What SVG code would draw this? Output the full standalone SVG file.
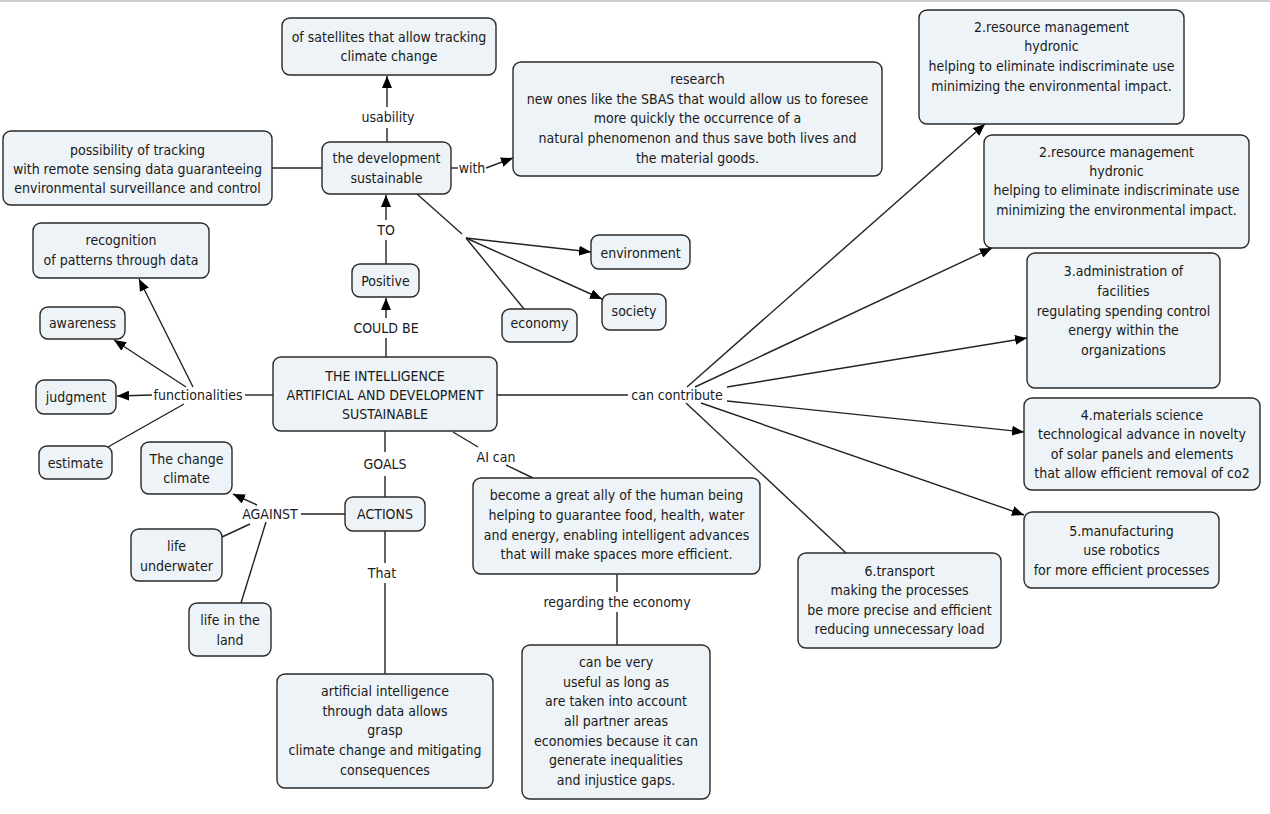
<svg xmlns="http://www.w3.org/2000/svg" width="1270" height="814" viewBox="0 0 1270 814">
<defs>
<marker id="ar" viewBox="0 0 12 10" refX="12" refY="5" markerWidth="12" markerHeight="10" markerUnits="userSpaceOnUse" orient="auto">
<path d="M0,0 L12,5 L0,10 Z" fill="#000"/>
</marker>
<style>
.n rect{fill:#edf3f6;stroke:#2a2a2a;stroke-width:1.4}
text{font-family:"DejaVu Sans Condensed","DejaVu Sans",Verdana,sans-serif;font-size:14px;fill:#1a1a1a;text-anchor:middle}
.c line,.c path{stroke:#222;stroke-width:1.4;fill:none}
</style>
</defs>
<rect width="1270" height="814" fill="#fff"/>
<line x1="0" y1="1" x2="1270" y2="1" stroke="#ccc" stroke-width="2"/>
<g class="c" id="connectors">
<line x1="387" y1="142" x2="387" y2="128"/>
<line x1="387" y1="107" x2="387" y2="76" marker-end="url(#ar)"/>
<line x1="451" y1="168" x2="458" y2="168"/>
<line x1="486" y1="168" x2="513" y2="158" marker-end="url(#ar)"/>
<line x1="272" y1="168" x2="322" y2="168"/>
<line x1="386" y1="264" x2="386" y2="240"/>
<line x1="386" y1="220" x2="386" y2="195" marker-end="url(#ar)"/>
<line x1="386" y1="357" x2="386" y2="338"/>
<line x1="386" y1="318" x2="386" y2="298" marker-end="url(#ar)"/>
<line x1="417" y1="194" x2="462" y2="234"/>
<line x1="466" y1="238" x2="591" y2="252" marker-end="url(#ar)"/>
<line x1="466" y1="238" x2="602" y2="299" marker-end="url(#ar)"/>
<line x1="466" y1="238" x2="524" y2="309"/>
<line x1="273" y1="395" x2="245" y2="395"/>
<line x1="152" y1="395" x2="117" y2="396" marker-end="url(#ar)"/>
<line x1="193" y1="387" x2="139" y2="279" marker-end="url(#ar)"/>
<line x1="186" y1="387" x2="114" y2="340" marker-end="url(#ar)"/>
<line x1="184" y1="404" x2="108" y2="447"/>
<line x1="497" y1="395" x2="628" y2="395"/>
<line x1="687" y1="387" x2="985" y2="124" marker-end="url(#ar)"/>
<line x1="695" y1="387" x2="992" y2="248" marker-end="url(#ar)"/>
<line x1="727" y1="387" x2="1027" y2="338" marker-end="url(#ar)"/>
<line x1="727" y1="401" x2="1024" y2="432" marker-end="url(#ar)"/>
<line x1="701" y1="403" x2="1024" y2="515" marker-end="url(#ar)"/>
<line x1="686" y1="403" x2="846" y2="553"/>
<line x1="453" y1="432" x2="478" y2="447"/>
<line x1="506" y1="465" x2="533" y2="478"/>
<line x1="385" y1="431" x2="385" y2="452"/>
<line x1="385" y1="476" x2="385" y2="497"/>
<line x1="345" y1="514" x2="301" y2="514"/>
<line x1="257" y1="505" x2="233" y2="494" marker-end="url(#ar)"/>
<line x1="250" y1="524" x2="222" y2="537"/>
<line x1="266" y1="522" x2="241" y2="603"/>
<line x1="385" y1="531" x2="385" y2="563"/>
<line x1="385" y1="583" x2="385" y2="674"/>
<line x1="617" y1="574" x2="617" y2="592"/>
<line x1="617" y1="612" x2="617" y2="645"/>
</g>
<g id="labels">
<text x="388" y="122">usability</text>
<text x="472" y="173">with</text>
<text x="386" y="235">TO</text>
<text x="386" y="333">COULD BE</text>
<text x="198" y="400">functionalities</text>
<text x="677" y="400">can contribute</text>
<text x="496" y="462">AI can</text>
<text x="385" y="469">GOALS</text>
<text x="270" y="519">AGAINST</text>
<text x="382" y="578">That</text>
<text x="617" y="607">regarding the economy</text>
</g>
<g class="n" id="n-satellites"><rect x="282" y="18" width="214" height="57" rx="8"/><text x="389" y="42">of satellites that allow tracking</text><text x="389" y="61">climate change</text></g>
<g class="n" id="n-possibility"><rect x="3" y="131" width="269" height="74" rx="8"/><text x="137.5" y="155">possibility of tracking</text><text x="137.5" y="174">with remote sensing data guaranteeing</text><text x="137.5" y="193">environmental surveillance and control</text></g>
<g class="n" id="n-development"><rect x="322" y="142" width="129" height="52" rx="8"/><text x="386.5" y="163">the development</text><text x="386.5" y="183">sustainable</text></g>
<g class="n" id="n-research"><rect x="513" y="62" width="369" height="114" rx="8"/><text x="697.5" y="84">research</text><text x="697.5" y="104">new ones like the SBAS that would allow us to foresee</text><text x="697.5" y="123">more quickly the occurrence of a</text><text x="697.5" y="143">natural phenomenon and thus save both lives and</text><text x="697.5" y="163">the material goods.</text></g>
<g class="n" id="n-resource1"><rect x="919" y="10" width="265" height="114" rx="8"/><text x="1051.5" y="32">2.resource management</text><text x="1051.5" y="51">hydronic</text><text x="1051.5" y="71">helping to eliminate indiscriminate use</text><text x="1051.5" y="91">minimizing the environmental impact.</text></g>
<g class="n" id="n-resource2"><rect x="984" y="135" width="265" height="113" rx="8"/><text x="1116.5" y="157">2.resource management</text><text x="1116.5" y="176">hydronic</text><text x="1116.5" y="195">helping to eliminate indiscriminate use</text><text x="1116.5" y="215">minimizing the environmental impact.</text></g>
<g class="n" id="n-administration"><rect x="1027" y="253" width="193" height="135" rx="8"/><text x="1123.5" y="276">3.administration of</text><text x="1123.5" y="296">facilities</text><text x="1123.5" y="316">regulating spending control</text><text x="1123.5" y="335">energy within the</text><text x="1123.5" y="355">organizations</text></g>
<g class="n" id="n-materials"><rect x="1024" y="398" width="236" height="92" rx="8"/><text x="1142" y="420">4.materials science</text><text x="1142" y="439">technological advance in novelty</text><text x="1142" y="459">of solar panels and elements</text><text x="1142" y="478">that allow efficient removal of co2</text></g>
<g class="n" id="n-manufacturing"><rect x="1024" y="512" width="195" height="76" rx="8"/><text x="1121.5" y="536">5.manufacturing</text><text x="1121.5" y="555">use robotics</text><text x="1121.5" y="575">for more efficient processes</text></g>
<g class="n" id="n-transport"><rect x="798" y="553" width="203" height="95" rx="8"/><text x="899.5" y="576">6.transport</text><text x="899.5" y="595">making the processes</text><text x="899.5" y="615">be more precise and efficient</text><text x="899.5" y="634">reducing unnecessary load</text></g>
<g class="n" id="n-environment"><rect x="591" y="235" width="99" height="34" rx="8"/><text x="640.5" y="258">environment</text></g>
<g class="n" id="n-society"><rect x="602" y="294" width="64" height="36" rx="8"/><text x="634" y="316">society</text></g>
<g class="n" id="n-economy"><rect x="502" y="309" width="75" height="33" rx="8"/><text x="539.5" y="328">economy</text></g>
<g class="n" id="n-positive"><rect x="352" y="264" width="67" height="33" rx="8"/><text x="385.5" y="286">Positive</text></g>
<g class="n" id="n-central"><rect x="273" y="357" width="224" height="74" rx="8"/><text x="385" y="381">THE INTELLIGENCE</text><text x="385" y="400">ARTIFICIAL AND DEVELOPMENT</text><text x="385" y="419">SUSTAINABLE</text></g>
<g class="n" id="n-recognition"><rect x="33" y="223" width="176" height="55" rx="8"/><text x="121" y="245">recognition</text><text x="121" y="265">of patterns through data</text></g>
<g class="n" id="n-awareness"><rect x="40" y="307" width="85" height="32" rx="8"/><text x="82.5" y="328">awareness</text></g>
<g class="n" id="n-judgment"><rect x="36" y="380" width="80" height="34" rx="8"/><text x="76" y="402">judgment</text></g>
<g class="n" id="n-estimate"><rect x="39" y="446" width="73" height="33" rx="8"/><text x="75.5" y="468">estimate</text></g>
<g class="n" id="n-change"><rect x="141" y="442" width="91" height="52" rx="8"/><text x="186.5" y="464">The change</text><text x="186.5" y="483">climate</text></g>
<g class="n" id="n-actions"><rect x="345" y="497" width="80" height="34" rx="8"/><text x="385" y="519">ACTIONS</text></g>
<g class="n" id="n-underwater"><rect x="131" y="529" width="91" height="52" rx="8"/><text x="176.5" y="551">life</text><text x="176.5" y="571">underwater</text></g>
<g class="n" id="n-land"><rect x="189" y="603" width="82" height="53" rx="8"/><text x="230" y="625">life in the</text><text x="230" y="645">land</text></g>
<g class="n" id="n-ai"><rect x="277" y="674" width="216" height="114" rx="8"/><text x="385" y="696">artificial intelligence</text><text x="385" y="716">through data allows</text><text x="385" y="735">grasp</text><text x="385" y="755">climate change and mitigating</text><text x="385" y="775">consequences</text></g>
<g class="n" id="n-ally"><rect x="473" y="478" width="287" height="96" rx="8"/><text x="616.5" y="500">become a great ally of the human being</text><text x="616.5" y="520">helping to guarantee food, health, water</text><text x="616.5" y="540">and energy, enabling intelligent advances</text><text x="616.5" y="559">that will make spaces more efficient.</text></g>
<g class="n" id="n-economyuse"><rect x="522" y="645" width="188" height="154" rx="8"/><text x="616" y="667">can be very</text><text x="616" y="687">useful as long as</text><text x="616" y="706">are taken into account</text><text x="616" y="726">all partner areas</text><text x="616" y="746">economies because it can</text><text x="616" y="765">generate inequalities</text><text x="616" y="785">and injustice gaps.</text></g>
</svg>
